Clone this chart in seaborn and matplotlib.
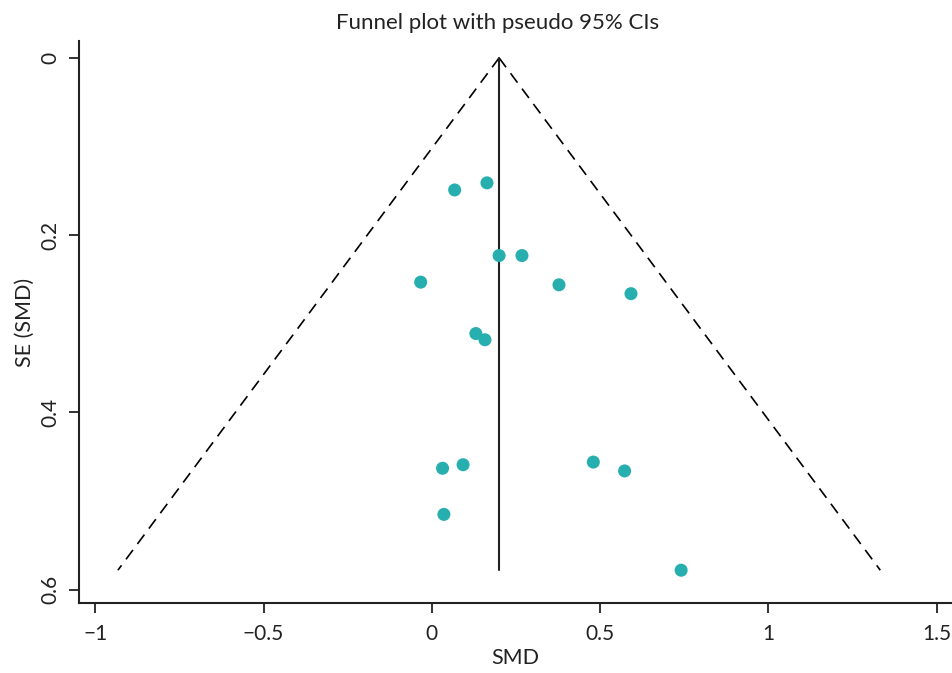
import matplotlib
matplotlib.use("Agg")
import matplotlib.pyplot as plt
import seaborn as sns
import numpy as np
import pandas as pd

# Study-level effect sizes and their standard errors
smd = [0.068, 0.164, 0.200, 0.268, -0.033, 0.378, 0.592, 0.131, 0.158,
       0.032, 0.093, 0.480, 0.573, 0.036, 0.741]
se_smd = [0.149, 0.141, 0.223, 0.223, 0.253, 0.256, 0.266, 0.311, 0.318,
          0.463, 0.459, 0.456, 0.466, 0.515, 0.578]

# Pooled estimate and the SE reached by the pseudo-CI limits
pooled = 0.200
se_max = 0.578
z95 = 1.96

x_ticks = [-1, -0.5, 0, 0.5, 1, 1.5]
x_labels = ["\u22121", "\u22120.5", "0", "0.5", "1", "1.5"]
y_ticks = [0, 0.2, 0.4, 0.6]
y_labels = ["0", "0.2", "0.4", "0.6"]

sns.set_theme(style="ticks")
plt.rcParams["font.family"] = ["Lato", "DejaVu Sans"]

df = pd.DataFrame({"SMD": smd, "SE": se_smd})

fig = plt.figure(figsize=(9.52, 6.73), dpi=100)
ax = fig.add_axes([0.0835, 0.104, 0.9165, 0.835])

# Pseudo 95% confidence limits
se_line = np.array([0.0, se_max])
ax.plot(pooled - z95 * se_line, se_line, color="black", lw=1.2,
        linestyle=(0, (7, 4.5)), zorder=1)
ax.plot(pooled + z95 * se_line, se_line, color="black", lw=1.2,
        linestyle=(0, (7, 4.5)), zorder=1)
# Pooled effect
ax.plot([pooled, pooled], se_line, color="#222222", lw=1.5, zorder=1)

sns.scatterplot(data=df, x="SMD", y="SE", ax=ax, color="#27AEAE",
                s=88, edgecolor="none", zorder=3)

ax.set_xlim(-1.047, 1.546)
ax.set_ylim(0.615, -0.019)
ax.set_xticks(x_ticks)
ax.set_xticklabels(x_labels)
ax.set_yticks(y_ticks)
ax.set_yticklabels(y_labels, rotation=90, va="center")

for side in ["top", "right"]:
    ax.spines[side].set_visible(False)
for side in ["left", "bottom"]:
    ax.spines[side].set_linewidth(1.5)
    ax.spines[side].set_color("#222222")
ax.tick_params(axis="both", length=7, width=1.3, color="#222222",
               labelsize=15, labelcolor="#222222")
ax.tick_params(axis="x", pad=8)
ax.tick_params(axis="y", pad=7)

ax.set_xlabel("SMD", fontsize=15.5, color="#222222", labelpad=3)
ax.set_ylabel("SE (SMD)", fontsize=15.5, color="#222222", labelpad=4)
ax.set_title("Funnel plot with pseudo 95% CIs", fontsize=16,
             color="#222222", pad=9, x=0.479)

fig.savefig("out.png", dpi=100)
